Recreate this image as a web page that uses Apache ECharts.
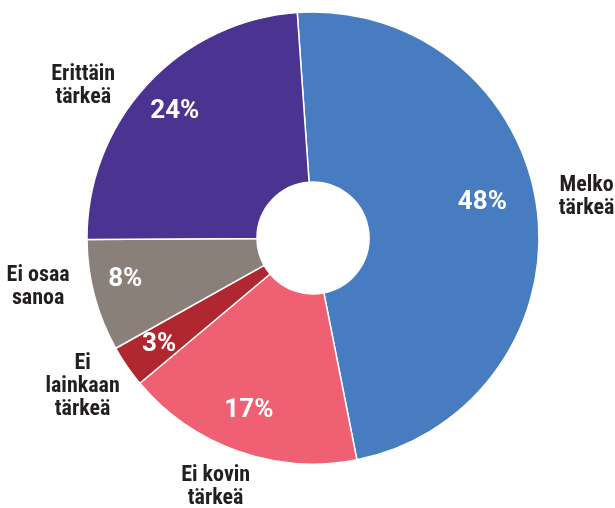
<!DOCTYPE html>
<html>
<head>
<meta charset="utf-8">
<script src="https://cdn.jsdelivr.net/npm/echarts@6/dist/echarts.min.js"></script>
<style>
  html, body { margin: 0; padding: 0; background: #fff; }
  #chart { width: 615px; height: 508px; }
</style>
</head>
<body>
<div id="chart"></div>
<script>
// 分类（顺时针，从顶部开始）
const categories = ['Melko\ntärkeä', 'Ei kovin\ntärkeä', 'Ei\nlainkaan\ntärkeä', 'Ei osaa\nsanoa', 'Erittäin\ntärkeä'];
// 百分比
const values = [48, 17, 3, 8, 24];
const colors = ['#487cc0', '#f06073', '#b0272f', '#8a7f79', '#4b3491'];

// 标签微调（像素偏移）
const nameOffsets = [[1, -5], [-6, -10], [-4, -8], [-9, -21], [-28, 35]];
const pctOffsets = [[-16, -11], [-2, -4], [0, 0], [-7, -6], [-1, 1]];

var myChart = echarts.init(document.getElementById('chart'));

const center = [313, 238];
const startAngle = 94;

const pieData = values.map(function (v, i) {
  return { name: categories[i], value: v, itemStyle: { color: colors[i] } };
});

const pctData = values.map(function (v, i) {
  return { name: categories[i], value: v, label: { offset: pctOffsets[i] } };
});

const nameData = values.map(function (v, i) {
  return { name: categories[i], value: v, label: { offset: nameOffsets[i] } };
});

var option = {
  animation: false,
  series: [
    {
      type: 'pie',
      center: center,
      radius: [56, 226],
      startAngle: startAngle,
      clockwise: true,
      avoidLabelOverlap: false,
      silent: true,
      itemStyle: { borderColor: '#fff', borderWidth: 1.5 },
      label: { show: false },
      labelLine: { show: false },
      data: pieData
    },
    // 百分比标签
    {
      type: 'pie',
      center: center,
      radius: [142, 226],
      startAngle: startAngle,
      clockwise: true,
      avoidLabelOverlap: false,
      silent: true,
      itemStyle: { color: 'rgba(0,0,0,0)' },
      label: {
        show: true,
        position: 'inside',
        formatter: '{c}%',
        color: '#fff',
        fontFamily: 'Roboto',
        fontWeight: 'bold',
        fontSize: 26
      },
      labelLine: { show: false },
      data: pctData
    },
    // 分类标签
    {
      type: 'pie',
      center: center,
      radius: [226, 318],
      startAngle: startAngle,
      clockwise: true,
      avoidLabelOverlap: false,
      silent: true,
      itemStyle: { color: 'rgba(0,0,0,0)' },
      label: {
        show: true,
        position: 'inside',
        formatter: '{b}',
        color: '#231f20',
        fontFamily: '"Roboto Condensed", "Open Sans Condensed", sans-serif',
        fontWeight: 'bold',
        fontSize: 22,
        lineHeight: 23,
        align: 'center'
      },
      labelLine: { show: false },
      data: nameData
    }
  ]
};

myChart.setOption(option);
</script>
</body>
</html>
